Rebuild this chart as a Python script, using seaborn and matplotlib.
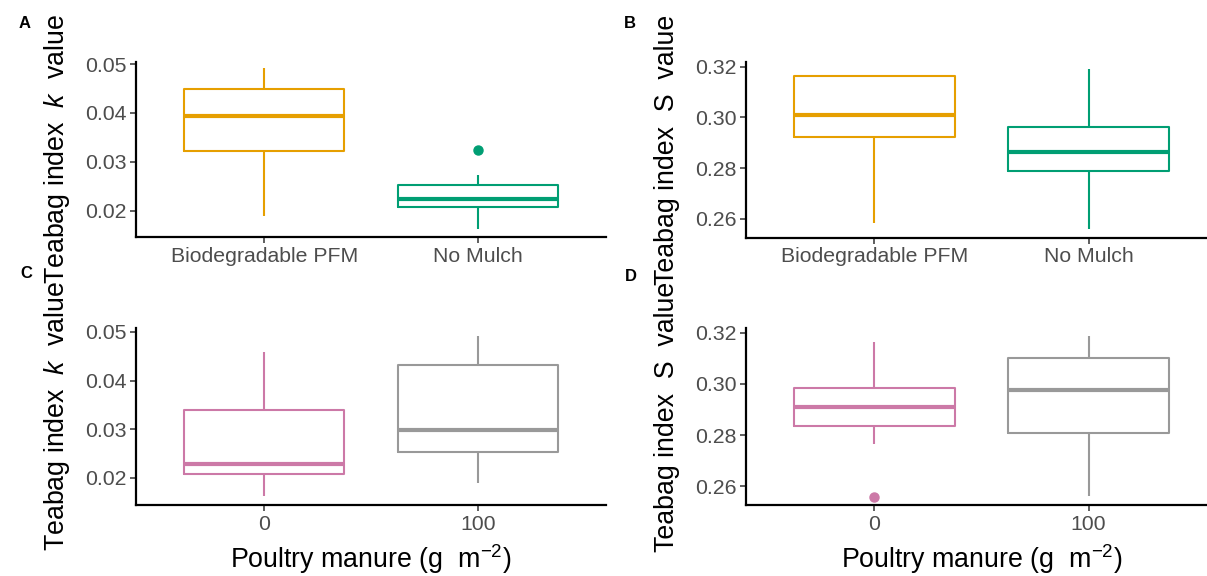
import numpy as np
import pandas as pd
import seaborn as sns
import matplotlib.pyplot as plt

# categories
mulch = ['Biodegradable PFM', 'No Mulch']
manure = ['0', '100']

# box summaries: [lower whisker, Q1, median, Q3, upper whisker]
k_mulch = [[0.0190, 0.0323, 0.0394, 0.0449, 0.0492],
           [0.0162, 0.0207, 0.0224, 0.0253, 0.0273]]
k_mulch_out = [[], [0.0325]]
s_mulch = [[0.2582, 0.2924, 0.3010, 0.3163, 0.3167],
           [0.2558, 0.2788, 0.2862, 0.2963, 0.3191]]
s_mulch_out = [[], []]
k_manure = [[0.0162, 0.0207, 0.0229, 0.0340, 0.0458],
            [0.0190, 0.0252, 0.0298, 0.0431, 0.0491]]
k_manure_out = [[], []]
s_manure = [[0.2764, 0.2835, 0.2909, 0.2983, 0.3165],
            [0.2562, 0.2807, 0.2975, 0.3099, 0.3186]]
s_manure_out = [[0.2559], []]

k_ticks = [0.02, 0.03, 0.04, 0.05]
s_ticks = [0.26, 0.28, 0.30, 0.32]

mulch_colors = ['#E69F00', '#009E73']
manure_colors = ['#CC79A7', '#999999']

sns.set_style('white')
plt.rcParams['font.family'] = ['Liberation Sans', 'DejaVu Sans']
plt.rcParams['mathtext.fontset'] = 'custom'
plt.rcParams['mathtext.rm'] = 'Liberation Sans'
plt.rcParams['mathtext.it'] = 'Liberation Sans:italic'


def make_frame(cats, summaries, outliers):
    # observations whose quartiles and whiskers give the boxes above
    rows = []
    for cat, (lo, q1, med, q3, hi), out in zip(cats, summaries, outliers):
        vals = [lo, q1, q1, med, med, q3, q3, hi] + list(out)
        rows += [(cat, v) for v in vals]
    return pd.DataFrame(rows, columns=['group', 'value'])


def draw_panel(ax, cats, summaries, outliers, colors, ylim, ticks):
    df = make_frame(cats, summaries, outliers)
    sns.boxplot(data=df, x='group', y='value', hue='group', order=cats,
                hue_order=cats, palette=colors, fill=False, width=0.75,
                linewidth=1.5, showcaps=False, legend=False,
                medianprops={'linewidth': 3.0},
                flierprops={'marker': 'o', 'markersize': 6.5}, ax=ax)
    for line in ax.lines:
        if line.get_marker() == 'o':
            line.set_markerfacecolor(line.get_markeredgecolor())
    ax.set_xlim(-0.6, 1.6)
    ax.set_ylim(*ylim)
    ax.set_yticks(ticks)
    ax.set_yticklabels(['%.2f' % t for t in ticks])
    ax.set_xlabel('')
    ax.set_ylabel('')
    sns.despine(ax=ax)
    for sp in ['left', 'bottom']:
        ax.spines[sp].set_linewidth(1.6)
        ax.spines[sp].set_color('black')
    ax.tick_params(axis='both', length=4, width=1.1, color='#333333',
                   labelcolor='#4D4D4D', labelsize=15.3, left=True, bottom=True)
    ax.tick_params(axis='y', pad=3)
    ax.tick_params(axis='x', pad=3)


fig = plt.figure(figsize=(12.07, 5.76), dpi=100)
W, H = 1207, 576
axA = fig.add_axes([136 / W, 1 - 237 / H, 470 / W, (237 - 61.7) / H])
axB = fig.add_axes([746 / W, 1 - 237.7 / H, 471 / W, (237.7 - 61.7) / H])
axC = fig.add_axes([136 / W, 1 - 505 / H, 470 / W, 177 / H])
axD = fig.add_axes([746 / W, 1 - 505 / H, 471 / W, 177 / H])

draw_panel(axA, mulch, k_mulch, k_mulch_out, mulch_colors, (0.0146, 0.0505), k_ticks)
draw_panel(axB, mulch, s_mulch, s_mulch_out, mulch_colors, (0.2525, 0.3220), s_ticks)
draw_panel(axC, manure, k_manure, k_manure_out, manure_colors, (0.0144, 0.0508), k_ticks)
draw_panel(axD, manure, s_manure, s_manure_out, manure_colors, (0.2527, 0.3218), s_ticks)

k_label = r'Teabag index  $\mathit{k}$  value'
s_label = r'Teabag index  S  value'
x_label = r'Poultry manure (g  m$^{-2}$)'
title_size = 19.3

for x, yc, lab in [(64, 149.5, k_label), (674, 149.5, s_label),
                   (64, 416.5, k_label), (674, 416.5, s_label)]:
    fig.text(x / W, 1 - yc / H, lab, rotation=90, rotation_mode='anchor',
             ha='center', va='baseline', fontsize=title_size, color='black')

for x in [371, 982]:
    fig.text(x / W, 1 - 568 / H, x_label, ha='center', va='baseline',
             fontsize=title_size, color='black')

for x, y, letter in [(25, 24, 'A'), (630, 24, 'B'), (26, 274, 'C'), (631, 276, 'D')]:
    fig.text(x / W, 1 - y / H, letter, ha='center', va='center',
             fontsize=12, fontweight='bold', color='black')

fig.savefig('out.png', dpi=100)
